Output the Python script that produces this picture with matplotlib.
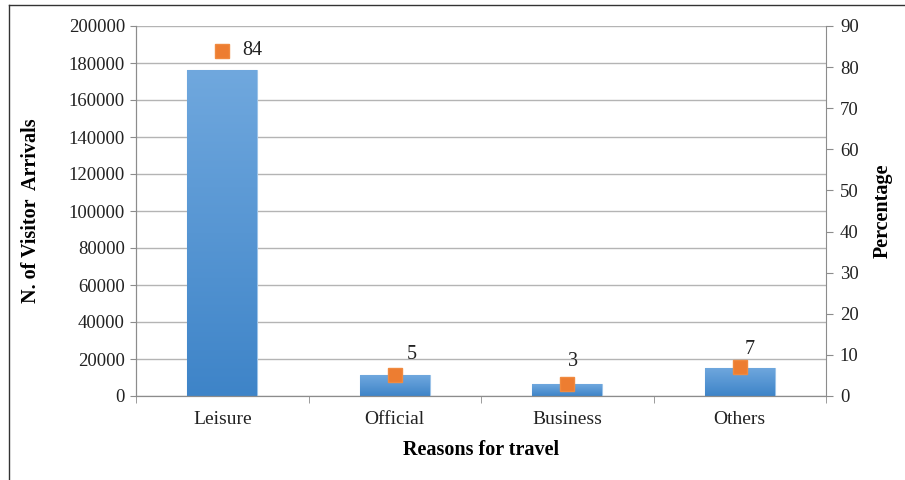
import numpy as np
import matplotlib.pyplot as plt
from matplotlib.lines import Line2D

# travel reasons and visitor figures
reasons = ['Leisure', 'Official', 'Business', 'Others']
arrivals = [176400, 11350, 6300, 15300]
percent = [84, 5, 3, 7]
# label offsets (points) for the percentage annotations
label_offsets = [(22, 0), (12, 15), (4, 16), (7, 13)]

plt.rcParams['font.family'] = ['Liberation Serif', 'DejaVu Serif']

fig = plt.figure(figsize=(9.05, 4.8), dpi=100)
ax = fig.add_axes([136 / 905, 84 / 480, 690 / 905, 370 / 480])
ax2 = ax.twinx()

x = np.arange(len(reasons))
bars = ax.bar(x, arrivals, width=0.405, color='#5b9bd5', edgecolor='#9cc3e8',
              linewidth=0.8, zorder=2)

# vertical gradient fill on each bar
grad = np.linspace(0, 1, 256).reshape(-1, 1)
cmap = plt.matplotlib.colors.LinearSegmentedColormap.from_list(
    'barblue', ['#3e84c8', '#70a8de'])
for b in bars:
    x0, y0 = b.get_x(), b.get_y()
    w, h = b.get_width(), b.get_height()
    im = ax.imshow(grad, cmap=cmap, aspect='auto', origin='lower',
                   extent=[x0, x0 + w, y0, y0 + h], zorder=2.5)
    im.set_clip_path(b)

ax.set_xlim(-0.5, len(reasons) - 0.5)
ax.set_ylim(0, 200000)
ax.set_yticks(np.arange(0, 200001, 20000))
ax.yaxis.grid(True, color='#b4b4b4', linewidth=1.0, zorder=0)
ax.set_axisbelow(True)

ax.set_xticks(x)
ax.set_xticklabels(reasons, fontsize=14)
ax.set_xticks(np.arange(-0.5, len(reasons), 1), minor=True)
ax.tick_params(axis='x', which='major', length=0, pad=11, colors='#222222')
ax.tick_params(axis='x', which='minor', length=5, color='#8c8c8c')
ax.tick_params(axis='y', length=4, color='#8c8c8c', labelsize=13.5,
               labelcolor='#222222', pad=4)

ax2.set_ylim(0, 90)
ax2.set_yticks(np.arange(0, 91, 10))
ax2.tick_params(axis='y', length=5, color='#8c8c8c', labelsize=13.5,
                labelcolor='#222222', pad=5)

for a in (ax, ax2):
    a.spines['top'].set_visible(False)
    for s in ('left', 'right', 'bottom'):
        a.spines[s].set_color('#8c8c8c')
ax.spines['right'].set_visible(False)

ax2.plot(x, percent, linestyle='none', marker='s', markersize=10,
         markerfacecolor='#ed7d31', markeredgecolor='#f08a40', zorder=5)
for xi, p, off in zip(x, percent, label_offsets):
    ax2.annotate(str(p), (xi, p), xytext=off, textcoords='offset points',
                 ha='center', va='center', fontsize=14.5, color='#222222')

ax.set_ylabel('N. of Visitor  Arrivals', fontsize=14.5, fontweight='bold')
ax.yaxis.set_label_coords(-0.138, 0.5)
ax2.set_ylabel('Percentage', fontsize=14.5, fontweight='bold')
ax2.yaxis.set_label_coords(1.068, 0.5)
ax.set_xlabel('Reasons for travel', fontsize=14.5, fontweight='bold')
ax.xaxis.set_label_coords(0.5, -0.118)

# outer frame lines (top and left)
fig.add_artist(Line2D([9 / 905, 1], [1 - 5 / 480] * 2, color='#333333',
                      linewidth=1.0, transform=fig.transFigure))
fig.add_artist(Line2D([9 / 905] * 2, [0, 1 - 5 / 480], color='#333333',
                      linewidth=1.0, transform=fig.transFigure))

fig.savefig('out.png', dpi=100)
